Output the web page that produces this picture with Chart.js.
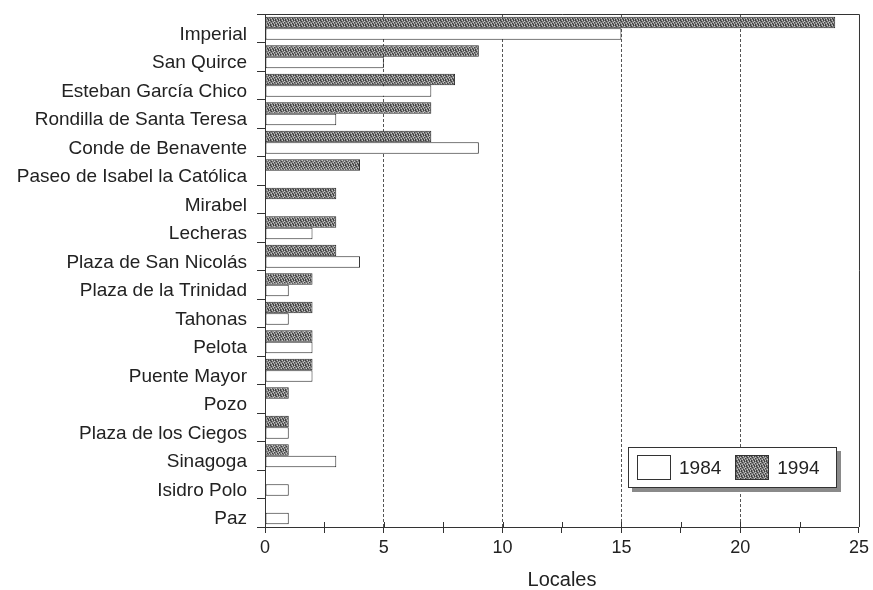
<!DOCTYPE html>
<html lang="es">
<head>
  <meta charset="UTF-8" />
  <title>Locales por calle 1984 - 1994</title>
  <script src="https://cdn.jsdelivr.net/npm/chart.js"></script>
  <style>
    html, body {
      margin: 0;
      padding: 0;
      background: #fff;
    }
    #marco {
      position: relative;
      width: 873px;
      height: 590px;
    }
    #leyenda {
      position: absolute;
      left: 628px;
      top: 447px;
      width: 207px;
      height: 39px;
      border: 1px solid #333;
      background: #fff;
      box-shadow: 4px 4px 0 #8a8a8a;
      font-family: "Liberation Sans", Arial, sans-serif;
      font-size: 19px;
      color: #222;
      display: flex;
      align-items: center;
    }
    #leyenda .caja {
      display: inline-block;
      width: 34px;
      height: 25px;
      border: 1px solid #333;
      box-sizing: border-box;
    }
    #leyenda .blanca { margin-left: 8px; background: #fff; }
    #leyenda .gris { margin-left: 14px; background: #8c8c8c; }
    #leyenda .texto { margin-left: 8px; }
  </style>
</head>
<body>
  <div id="marco">
    <canvas id="graficoLocales" width="873" height="590"></canvas>
    <div id="leyenda">
      <span class="caja blanca"></span><span class="texto">1984</span>
      <span class="caja gris" id="cajaGris"></span><span class="texto">1994</span>
    </div>
  </div>

  <script>
    const calles = [
      'Imperial', 'San Quirce', 'Esteban García Chico', 'Rondilla de Santa Teresa',
      'Conde de Benavente', 'Paseo de Isabel la Católica', 'Mirabel', 'Lecheras',
      'Plaza de San Nicolás', 'Plaza de la Trinidad', 'Tahonas', 'Pelota',
      'Puente Mayor', 'Pozo', 'Plaza de los Ciegos', 'Sinagoga', 'Isidro Polo', 'Paz'
    ];
    const locales1994 = [24, 9, 8, 7, 7, 4, 3, 3, 3, 2, 2, 2, 2, 1, 1, 1, 0, 0];
    const locales1984 = [15, 5, 7, 3, 9, 0, 0, 2, 4, 1, 1, 2, 2, 0, 1, 3, 1, 1];
    const marcasX = [0, 5, 10, 15, 20, 25];

    const fuente = '"Liberation Sans", Arial, sans-serif';

    // trama gris moteada para las barras de 1994
    function crearTrama() {
      const c = document.createElement('canvas');
      c.width = 5; c.height = 5;
      const g = c.getContext('2d');
      g.fillStyle = '#7f7f7f';
      g.fillRect(0, 0, 5, 5);
      g.fillStyle = '#3e3e3e';
      [[0, 0], [3, 0], [1, 1], [4, 2], [2, 3], [0, 4], [3, 4]].forEach(p => g.fillRect(p[0], p[1], 1, 1));
      g.fillStyle = '#c4c4c4';
      [[2, 0], [4, 1], [1, 3], [3, 2], [4, 4]].forEach(p => g.fillRect(p[0], p[1], 1, 1));
      return c;
    }
    const lienzoTrama = crearTrama();
    const ctx = document.getElementById('graficoLocales').getContext('2d');
    const trama = ctx.createPattern(lienzoTrama, 'repeat');
    document.getElementById('cajaGris').style.background =
      'url(' + lienzoTrama.toDataURL() + ')';

    // borde superior y derecho, y marcas que cruzan el eje x
    const bordes = {
      id: 'bordes',
      afterDraw(chart) {
        const { ctx, chartArea: a, scales } = chart;
        ctx.save();
        ctx.strokeStyle = '#333';
        ctx.lineWidth = 1;
        ctx.beginPath();
        ctx.moveTo(a.left, a.top + 0.5);
        ctx.lineTo(a.right + 0.5, a.top + 0.5);
        ctx.lineTo(a.right + 0.5, a.bottom);
        scales.x.ticks.forEach(t => {
          const px = Math.round(scales.x.getPixelForValue(t.value)) + 0.5;
          ctx.moveTo(px, a.bottom);
          ctx.lineTo(px, a.bottom - 5);
        });
        ctx.stroke();
        ctx.restore();
      }
    };

    new Chart(ctx, {
      type: 'bar',
      data: {
        labels: calles,
        datasets: [
          {
            label: '1994',
            data: locales1994,
            backgroundColor: trama,
            borderColor: '#2a2a2a',
            borderWidth: 1,
            borderSkipped: false
          },
          {
            label: '1984',
            data: locales1984,
            backgroundColor: '#ffffff',
            borderColor: '#2a2a2a',
            borderWidth: 1,
            borderSkipped: false
          }
        ]
      },
      options: {
        indexAxis: 'y',
        responsive: false,
        animation: false,
        layout: { padding: { top: 14, right: 11, bottom: 0, left: 0 } },
        datasets: { bar: { categoryPercentage: 0.8, barPercentage: 1.0 } },
        plugins: {
          legend: { display: false },
          tooltip: { enabled: false }
        },
        scales: {
          x: {
            min: 0,
            max: 25,
            afterFit: s => { s.height = 63; },
            ticks: {
              stepSize: 2.5,
              autoSkip: false,
              maxRotation: 0,
              padding: 4,
              color: '#222',
              font: { family: fuente, size: 18 },
              callback: v => marcasX.includes(v) ? v : ''
            },
            grid: {
              color: c => (c.tick && c.tick.value % 5 === 0 && c.tick.value > 0 && c.tick.value < 25) ? '#555' : 'rgba(0,0,0,0)',
              tickColor: '#333',
              tickLength: 6
            },
            border: { color: '#333', dash: [3, 2] },
            title: {
              display: true,
              text: 'Locales',
              color: '#222',
              font: { family: fuente, size: 20, lineHeight: 1 },
              padding: { top: 0, bottom: 0 }
            }
          },
          y: {
            afterFit: s => {
              s.width = 265;
              s.paddingTop = 0;
              s.paddingBottom = 0;
            },
            ticks: {
              padding: 10,
              labelOffset: 6.5,
              autoSkip: false,
              color: '#222',
              font: { family: fuente, size: 19 }
            },
            grid: {
              offset: true,
              drawOnChartArea: false,
              color: '#333',
              tickLength: 8
            },
            border: { color: '#333' }
          }
        }
      },
      plugins: [bordes]
    });
  </script>
</body>
</html>
